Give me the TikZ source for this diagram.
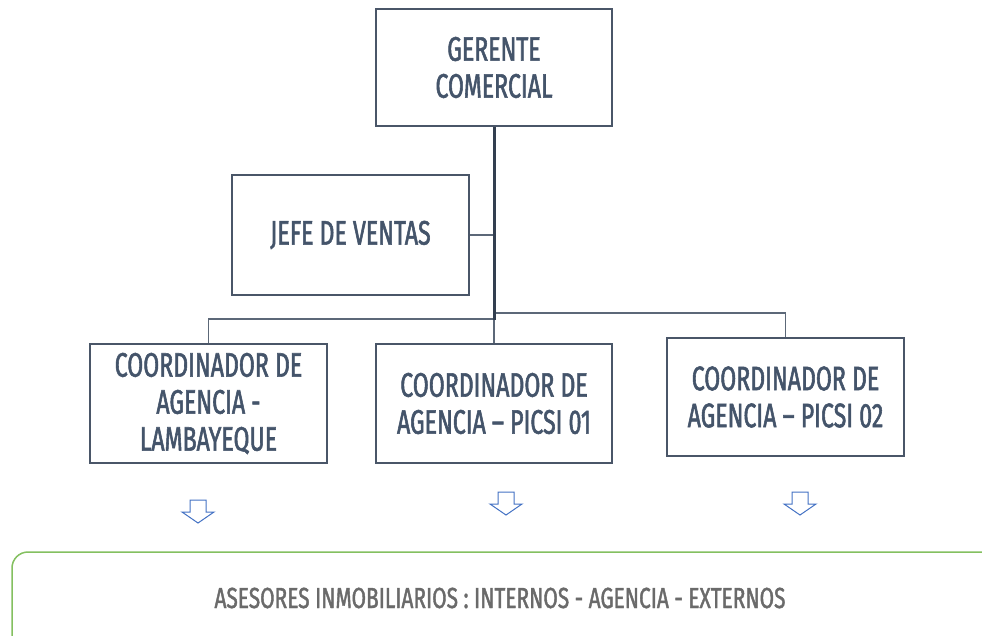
\documentclass[tikz,border=0pt]{standalone}
\usepackage{fontspec}
\setmainfont{Fira Sans}[FakeStretch=0.68,FakeBold=1.6]
\newfontfamily\botfont{Fira Sans}[FakeStretch=0.72,FakeBold=1.4]
\usetikzlibrary{calc}
\definecolor{txtblue}{HTML}{44546A}
\definecolor{boxline}{HTML}{4A5668}
\definecolor{connline}{HTML}{5C6878}
\definecolor{trunkcol}{HTML}{333F50}
\definecolor{arrblue}{HTML}{4472C4}
\definecolor{greenline}{HTML}{84C060}
\definecolor{graytxt}{HTML}{6A6A6A}
\tikzset{
  orgbox/.style={draw=boxline, line width=1.3pt, fill=white, text=txtblue,
    align=center, inner sep=0pt, font=\fontsize{34}{37}\selectfont},
  conn/.style={draw=connline, line width=1.3pt},
  trunk/.style={draw=trunkcol, line width=3pt},
  hollowarr/.style={draw=arrblue, line width=1pt, fill=white, line join=miter},
  greenbox/.style={draw=greenline, line width=1.5pt, rounded corners=16pt}
}
\begin{document}
\begin{tikzpicture}[x=1pt,y=-1pt]
\useasboundingbox[fill=white] (0,0) rectangle (982,635);
% boxes
\node[orgbox, minimum width=236pt, minimum height=117pt] (ger) at (494,67.5) {GERENTE\\COMERCIAL};
\node[orgbox, minimum width=237pt, minimum height=120pt] (jefe) at (350.5,235) {JEFE DE VENTAS};
\node[orgbox, minimum width=237pt, minimum height=119pt] (lamb) at (208.5,403.5) {COORDINADOR DE\\AGENCIA -\\LAMBAYEQUE};
\node[orgbox, minimum width=236pt, minimum height=119pt] (p01) at (494,403.5) {COORDINADOR DE\\AGENCIA – PICSI 01};
\node[orgbox, minimum width=237pt, minimum height=118pt] (p02) at (785.5,397) {COORDINADOR DE\\AGENCIA – PICSI 02};
% connector junctions
\coordinate (jL) at (494,319);
\coordinate (jR) at (494,313);
\draw[conn] (jefe.east) -- (jefe.east -| ger.south);
\draw[conn] (jL) -| (lamb.north);
\draw[conn] (jR) -| (p02.north);
\draw[conn] (jL) -- (p01.north);
\draw[trunk] (ger.south) -- ($(jL)+(0,1)$);
% hollow arrows
\coordinate (a1) at (198,500);
\coordinate (a2) at (506,492);
\coordinate (a3) at (800,492);
\foreach \c in {a1,a2,a3}{
  \draw[hollowarr, shift={(\c)}] (-8,0) -- (8,0) -- (8,12) -- (16,12) -- (0,23) -- (-16,12) -- (-8,12) -- cycle;
}
% bottom green box
\coordinate (gTL) at (12,552);
\coordinate (gBR) at (1000,660);
\draw[greenbox] (gTL) rectangle (gBR);
\node[text=graytxt, font=\botfont\fontsize{29}{32}\selectfont, inner sep=0pt] (ases) at (500,598) {ASESORES INMOBILIARIOS : INTERNOS - AGENCIA - EXTERNOS};
\end{tikzpicture}
\end{document}
